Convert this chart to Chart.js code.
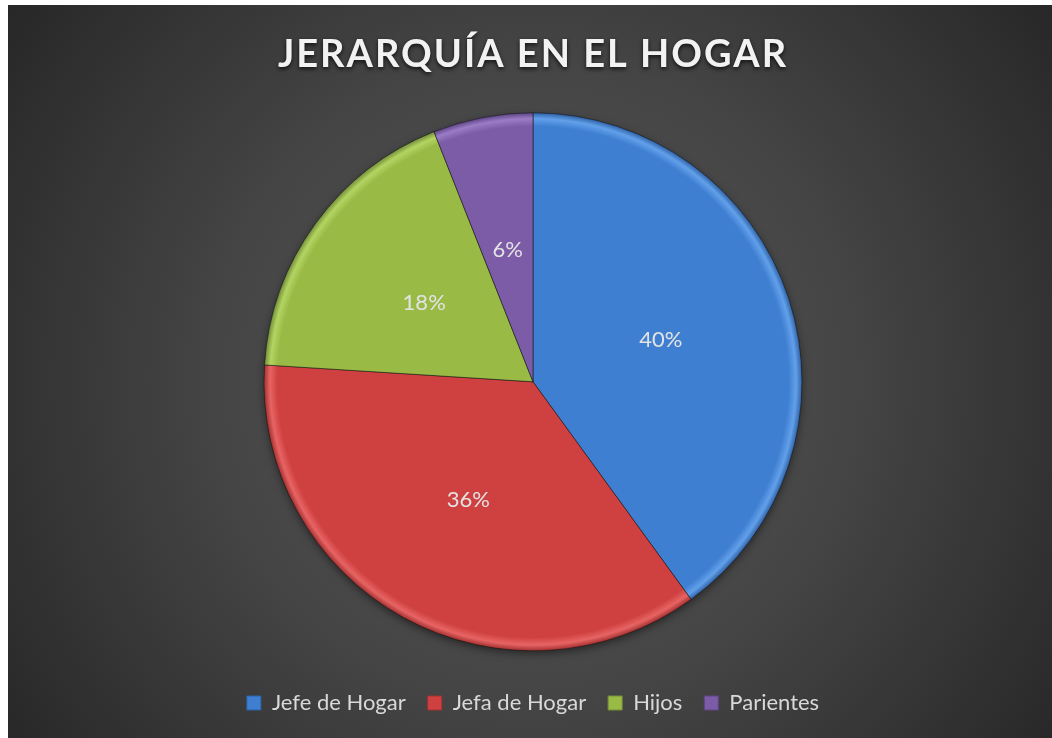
<!DOCTYPE html>
<html>
<head>
<meta charset="utf-8">
<script src="https://cdn.jsdelivr.net/npm/chart.js@4.4.1/dist/chart.umd.min.js"></script>
<style>
  html, body { margin: 0; padding: 0; background: #fff; }
  #wrap { position: absolute; left: 8px; top: 5px; width: 1044px; height: 733px; }
</style>
</head>
<body>
<div id="wrap"><canvas id="pie"></canvas></div>
<script>
const categories = ['Jefe de Hogar', 'Jefa de Hogar', 'Hijos', 'Parientes'];
const shares = [40, 36, 18, 6];
const sliceColors = ['#3f7fd2', '#cf4040', '#99ba45', '#7c5ba7'];
const rimColors = ['#62a0ea', '#e86464', '#b4d462', '#9b7cc6'];
const edgeColors = ['#2f62a6', '#a33030', '#74903a', '#5e4585'];

const PIE_R = 269;

// dark radial background like the office chart style
const backdrop = {
    id: 'backdrop',
    beforeDraw(chart) {
        const ctx = chart.ctx;
        const w = chart.width, h = chart.height;
        const g = ctx.createRadialGradient(525, 375, 0, 525, 375, 680);
        g.addColorStop(0, '#575757');
        g.addColorStop(0.45, '#464646');
        g.addColorStop(1, '#242424');
        ctx.save();
        ctx.fillStyle = g;
        ctx.fillRect(0, 0, w, h);
        ctx.restore();

        // spaced, shadowed title
        const t = chart.titleBlock;
        if (t && !t._patched) {
            const orig = t.draw.bind(t);
            t.draw = function () {
                ctx.save();
                ctx.letterSpacing = '2px';
                ctx.shadowColor = 'rgba(0,0,0,0.75)';
                ctx.shadowBlur = 4;
                ctx.shadowOffsetY = 2;
                orig();
                ctx.restore();
            };
            t._patched = true;
        }
    },
    beforeDatasetsDraw(chart) {
        // soft shadow under the pie
        const ca = chart.chartArea;
        const ctx = chart.ctx;
        ctx.save();
        ctx.shadowColor = 'rgba(0,0,0,0.55)';
        ctx.shadowBlur = 10;
        ctx.shadowOffsetY = 3;
        ctx.fillStyle = '#3a3a3a';
        ctx.beginPath();
        ctx.arc((ca.left + ca.right) / 2, (ca.top + ca.bottom) / 2, PIE_R - 1, 0, Math.PI * 2);
        ctx.fill();
        ctx.restore();
    }
};

const pctLabels = {
    id: 'pctLabels',
    afterDatasetsDraw(chart) {
        const ctx = chart.ctx;
        const meta = chart.getDatasetMeta(0);
        ctx.save();
        ctx.font = '22px Lato';
        ctx.fillStyle = '#e3e3e3';
        ctx.textAlign = 'center';
        ctx.textBaseline = 'middle';
        meta.data.forEach((arc, i) => {
            const p = arc.tooltipPosition();
            ctx.fillText(shares[i] + '%', p.x, p.y);
        });
        ctx.restore();
    }
};

function sliceFill(c) {
    const ca = c.chart.chartArea;
    const i = c.dataIndex;
    if (!ca) return sliceColors[i];
    const cx = (ca.left + ca.right) / 2, cy = (ca.top + ca.bottom) / 2;
    const g = c.chart.ctx.createRadialGradient(cx, cy, 0, cx, cy, PIE_R);
    g.addColorStop(0, sliceColors[i]);
    g.addColorStop(0.95, sliceColors[i]);
    g.addColorStop(0.978, rimColors[i]);
    g.addColorStop(1, edgeColors[i]);
    return g;
}

const CHART = document.getElementById('pie');

let pieChart = new Chart(CHART, {
    type: 'pie',
    data: {
        labels: categories,
        datasets: [{
            data: shares,
            backgroundColor: sliceFill,
            borderColor: 'rgba(20,20,20,0.55)',
            borderWidth: 1,
            radius: PIE_R
        }]
    },
    options: {
        responsive: true,
        maintainAspectRatio: false,
        animation: false,
        layout: { padding: { left: 6, bottom: 14 } },
        plugins: {
            title: {
                display: true,
                text: 'JERARQUÍA EN EL HOGAR',
                color: '#f2f2f2',
                font: { family: 'Lato', size: 38, weight: 'bold' },
                padding: { top: 27, bottom: 16 }
            },
            legend: {
                position: 'bottom',
                labels: {
                    color: '#d9d9d9',
                    font: { family: 'Lato', size: 22 },
                    boxWidth: 14,
                    boxHeight: 14,
                    padding: 22,
                    generateLabels(chart) {
                        return categories.map((name, i) => ({
                            text: name,
                            fillStyle: sliceColors[i],
                            strokeStyle: edgeColors[i],
                            lineWidth: 1,
                            fontColor: '#d9d9d9',
                            index: i
                        }));
                    }
                }
            },
            tooltip: { enabled: false }
        }
    },
    plugins: [backdrop, pctLabels]
});
</script>
</body>
</html>
